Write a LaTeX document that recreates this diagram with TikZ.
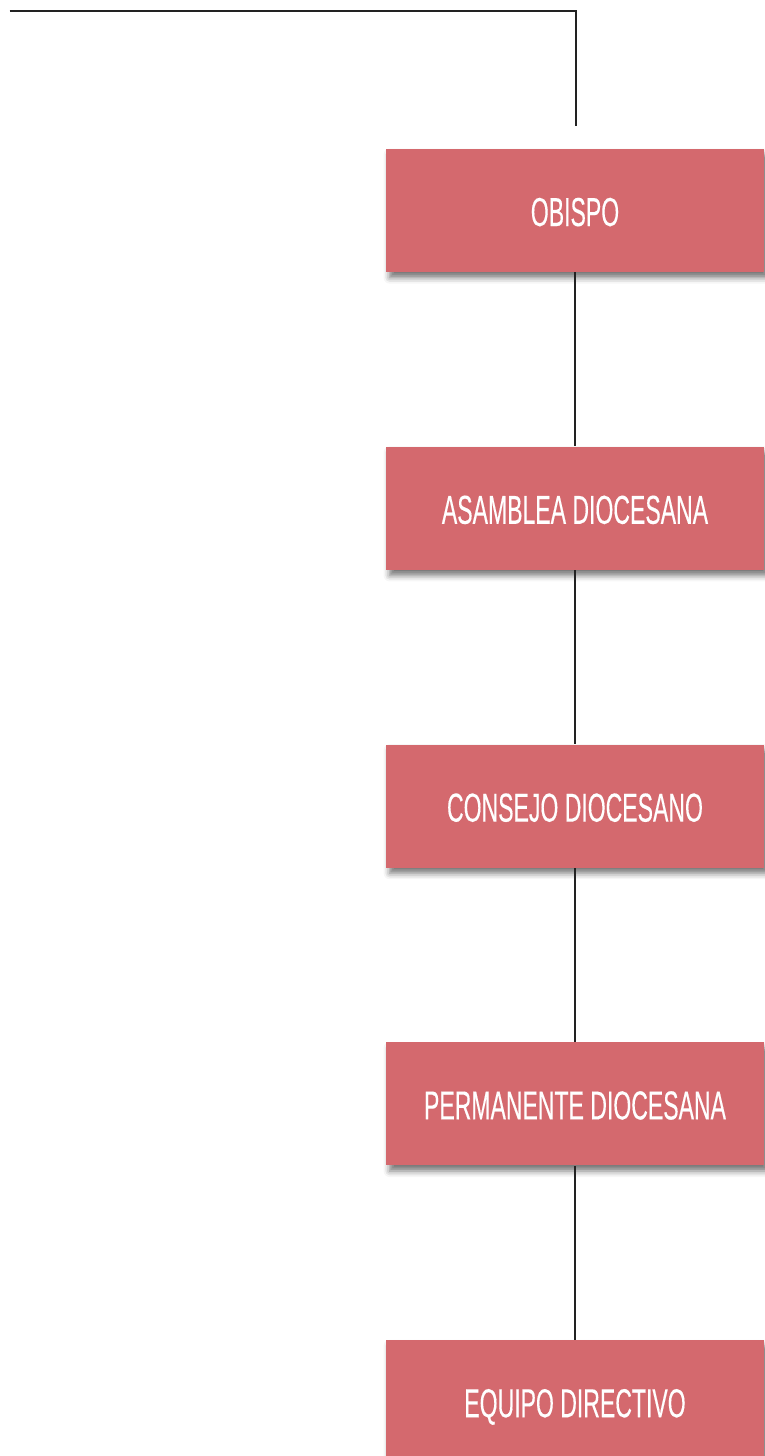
\documentclass[tikz,border=0pt]{standalone}
\usepackage{fontspec}
\setmainfont[FakeStretch=0.57,FakeBold=0.25]{Liberation Sans}
\usetikzlibrary{positioning,shadows.blur}
\definecolor{cargo}{RGB}{212,105,110}
\definecolor{linea}{RGB}{34,34,34}
\begin{document}
\begin{tikzpicture}
[
    x=0.5pt, y=-0.5pt,
    node distance=87pt,
    conector/.style={draw=linea, line width=1.1pt},
    every node/.style={fill=cargo,text=white,minimum width=189pt,minimum height=61.5pt,
      text height=15.5pt,text depth=0pt,font=\fontsize{20.2}{22}\selectfont,
      blur shadow={shadow xshift=1.8pt,shadow yshift=-2.8pt,shadow blur radius=3pt,shadow opacity=55}}
  ]
  \useasboundingbox (0,0) rectangle (765,1456);

  \coordinate (inicio) at (9.5,11);
  \coordinate (fin) at (576,126);

  \node (obispo) at (575,210.5) {OBISPO};
  \node (asamblea) [below=of obispo] {ASAMBLEA DIOCESANA};
  \node (consejo) [below=of asamblea] {CONSEJO DIOCESANO};
  \node (permanente) [below=of consejo] {PERMANENTE DIOCESANA};
  \node (equipo) [below=of permanente] {EQUIPO DIRECTIVO};

  \draw[conector] (inicio) -| (fin);
  \draw[conector] (obispo) -- (asamblea);
  \draw[conector] (asamblea) -- (consejo);
  \draw[conector] (consejo) -- (permanente);
  \draw[conector] (permanente) -- (equipo);
\end{tikzpicture}
\end{document}
